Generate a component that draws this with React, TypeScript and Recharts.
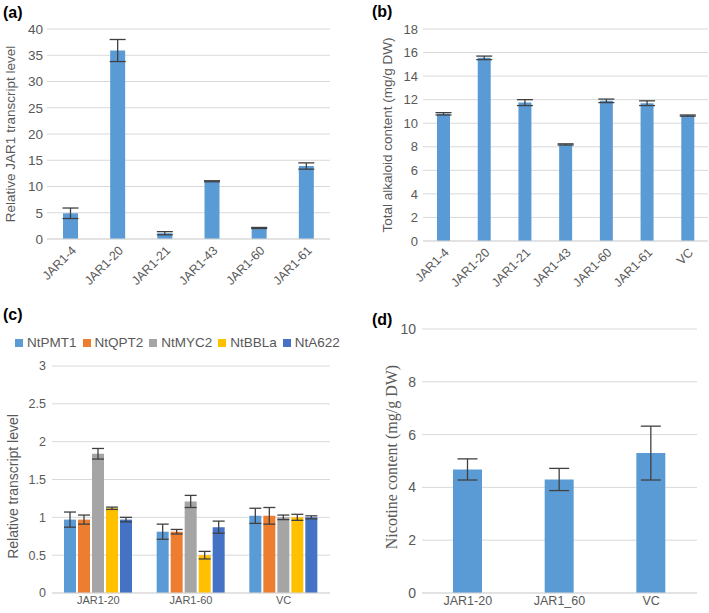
import React from 'react';
import { BarChart, Bar, XAxis, YAxis, CartesianGrid, ErrorBar, Legend, Label } from 'recharts';

const catsA = ['JAR1-4', 'JAR1-20', 'JAR1-21', 'JAR1-43', 'JAR1-60', 'JAR1-61'];
const valsA = [4.9, 35.9, 1.1, 11.0, 2.1, 13.9];
const errA = [1.0, 2.1, 0.3, 0.1, 0.1, 0.6];
const ticksA = [0, 5, 10, 15, 20, 25, 30, 35, 40];

const catsB = ['JAR1-4', 'JAR1-20', 'JAR1-21', 'JAR1-43', 'JAR1-60', 'JAR1-61', 'VC'];
const valsB = [10.8, 15.55, 11.75, 8.2, 11.9, 11.7, 10.65];
const errB = [0.1, 0.15, 0.25, 0.05, 0.15, 0.2, 0.05];
const ticksB = [0, 2, 4, 6, 8, 10, 12, 14, 16, 18];

const catsC = ['JAR1-20', 'JAR1-60', 'VC'];
const seriesC = ['NtPMT1', 'NtQPT2', 'NtMYC2', 'NtBBLa', 'NtA622'];
const colorsC = ['#5B9BD5', '#ED7D31', '#A5A5A5', '#FFC000', '#4472C4'];
const pmt1 = [0.97, 0.81, 1.02];
const pmt1Err = [0.1, 0.1, 0.1];
const qpt2 = [0.97, 0.81, 1.02];
const qpt2Err = [0.06, 0.03, 0.11];
const myc2 = [1.84, 1.21, 1.0];
const myc2Err = [0.07, 0.08, 0.03];
const bbla = [1.12, 0.5, 1.0];
const bblaErr = [0.015, 0.05, 0.04];
const a622 = [0.97, 0.87, 1.0];
const a622Err = [0.03, 0.08, 0.02];
const ticksC = [0, 0.5, 1, 1.5, 2, 2.5, 3];

const catsD = ['JAR1-20', 'JAR1_60', 'VC'];
const valsD = [4.68, 4.3, 5.3];
const errD = [0.4, 0.42, 1.02];
const ticksD = [0, 2, 4, 6, 8, 10];

const dataA = catsA.map((c, i) => ({ name: c, v: valsA[i], e: errA[i] }));
const dataB = catsB.map((c, i) => ({ name: c, v: valsB[i], e: errB[i] }));
const valsC = [pmt1, qpt2, myc2, bbla, a622];
const errsC = [pmt1Err, qpt2Err, myc2Err, bblaErr, a622Err];
const dataC = catsC.map((c, i) => {
  const row: any = { name: c };
  seriesC.forEach((s, k) => {
    row[s] = valsC[k][i];
    row[s + '_e'] = errsC[k][i];
  });
  return row;
});
const dataD = catsD.map((c, i) => ({ name: c, v: valsD[i], e: errD[i] }));

const BLUE = '#5B9BD5';
const GRID = '#D9D9D9';
const TXT = '#595959';
const ERR = '#404040';

const titleStyle: React.CSSProperties = {
  position: 'absolute',
  fontWeight: 'bold',
  fontSize: 16,
  color: '#000',
  fontFamily: "'Liberation Sans', Arial, sans-serif",
};

const LegendC = (props: any) => {
  const payload = [...(props.payload || [])].sort(
    (a: any, b: any) => seriesC.indexOf(a.value) - seriesC.indexOf(b.value)
  );
  return (
    <div style={{ display: 'flex', alignItems: 'center', paddingLeft: 15, fontSize: 13.5, color: TXT, whiteSpace: 'nowrap' }}>
      {payload.map((p: any) => (
        <div key={p.value} style={{ display: 'flex', alignItems: 'center', marginRight: 6 }}>
          <span style={{ display: 'inline-block', width: 8, height: 8, background: p.color, marginRight: 4 }} />
          <span>{p.value}</span>
        </div>
      ))}
    </div>
  );
};

export default function App() {
  return (
    <div
      style={{
        position: 'absolute',
        left: 0,
        top: 0,
        width: 709,
        height: 613,
        background: '#fff',
        fontFamily: "'Liberation Sans', Arial, sans-serif",
      }}
    >
      {/* (a) */}
      <div style={{ position: 'absolute', left: 0, top: 0 }}>
        <BarChart width={350} height={300} data={dataA} margin={{ top: 29, right: 20, bottom: 0, left: 0 }}>
          <CartesianGrid vertical={false} stroke={GRID} />
          <XAxis
            dataKey="name"
            height={61}
            stroke={GRID}
            tickLine={false}
            interval={0}
            angle={-45}
            textAnchor="end"
            tick={{ fill: TXT, fontSize: 12.5 }}
            tickSize={0}
            tickMargin={6}
          />
          <YAxis
            width={47}
            domain={[0, 40]}
            ticks={ticksA}
            axisLine={false}
            tickLine={false}
            tickSize={0}
            tickMargin={4}
            tick={{ fill: TXT, fontSize: 13.5 }}
          >
            <Label value="Relative JAR1 transcript level" angle={-90} position="center" dx={-13} style={{ fill: TXT, fontSize: 13.5 }} />
          </YAxis>
          <Bar dataKey="v" fill={BLUE} barSize={15} isAnimationActive={false}>
            <ErrorBar dataKey="e" width={8} stroke={ERR} strokeWidth={1.3} isAnimationActive={false} />
          </Bar>
        </BarChart>
      </div>
      <div style={{ ...titleStyle, left: 3, top: 4 }}>(a)</div>

      {/* (b) */}
      <div style={{ position: 'absolute', left: 355, top: 0 }}>
        <BarChart width={354} height={300} data={dataB} margin={{ top: 29, right: 1, bottom: 0, left: 0 }}>
          <CartesianGrid vertical={false} stroke={GRID} />
          <XAxis
            dataKey="name"
            height={59}
            stroke={GRID}
            tickLine={false}
            interval={0}
            angle={-45}
            textAnchor="end"
            tick={{ fill: TXT, fontSize: 12.5 }}
            tickSize={0}
            tickMargin={6}
          />
          <YAxis
            width={68}
            domain={[0, 18]}
            ticks={ticksB}
            axisLine={false}
            tickLine={false}
            tickSize={0}
            tickMargin={5}
            tick={{ fill: TXT, fontSize: 13 }}
          >
            <Label value="Total alkaloid content (mg/g DW)" angle={-90} position="center" dx={-2} style={{ fill: TXT, fontSize: 13.5 }} />
          </YAxis>
          <Bar dataKey="v" fill={BLUE} barSize={13} isAnimationActive={false}>
            <ErrorBar dataKey="e" width={8} stroke={ERR} strokeWidth={1.3} isAnimationActive={false} />
          </Bar>
        </BarChart>
      </div>
      <div style={{ ...titleStyle, left: 372, top: 3 }}>(b)</div>

      {/* (c) */}
      <div style={{ position: 'absolute', left: 0, top: 300 }}>
        <BarChart width={350} height={313} data={dataC} margin={{ top: 66, right: 20, bottom: 0, left: 0 }} barGap={2}>
          <CartesianGrid vertical={false} stroke={GRID} />
          <XAxis
            dataKey="name"
            height={20}
            stroke={GRID}
            tickLine={false}
            interval={0}
            tick={{ fill: TXT, fontSize: 11 }}
            tickSize={0}
            tickMargin={3}
          />
          <YAxis
            width={52}
            domain={[0, 3]}
            ticks={ticksC}
            axisLine={false}
            tickLine={false}
            tickSize={0}
            tickMargin={6}
            tick={{ fill: TXT, fontSize: 12.5 }}
          >
            <Label value="Relative transcript level" angle={-90} position="center" dx={-13} dy={7} style={{ fill: TXT, fontSize: 14 }} />
          </YAxis>
          <Legend
            verticalAlign="middle"
            align="center"
            layout="horizontal"
            content={LegendC}
            wrapperStyle={{ top: 34, left: 0, width: 350, lineHeight: '18px' }}
          />
          {seriesC.map((s, k) => (
            <Bar key={s} dataKey={s} name={s} fill={colorsC[k]} barSize={12} isAnimationActive={false}>
              <ErrorBar dataKey={s + '_e'} width={6} stroke={ERR} strokeWidth={1.3} isAnimationActive={false} />
            </Bar>
          ))}
        </BarChart>
      </div>
      <div style={{ ...titleStyle, left: 3, top: 306 }}>(c)</div>

      {/* (d) */}
      <div style={{ position: 'absolute', left: 355, top: 300 }}>
        <BarChart width={354} height={313} data={dataD} margin={{ top: 29, right: 12, bottom: 0, left: 0 }}>
          <CartesianGrid vertical={false} stroke={GRID} />
          <XAxis
            dataKey="name"
            height={20}
            stroke={GRID}
            tickLine={false}
            interval={0}
            tick={{ fill: TXT, fontSize: 12.5 }}
            tickSize={0}
            tickMargin={3}
          />
          <YAxis
            width={67}
            domain={[0, 10]}
            ticks={ticksD}
            axisLine={false}
            tickLine={false}
            tickSize={0}
            tickMargin={6}
            tick={{ fill: TXT, fontSize: 14 }}
          >
            <Label
              value="Nicotine content (mg/g DW)"
              angle={-90}
              position="center"
              dx={3}
              dy={-4}
              style={{ fill: TXT, fontSize: 16, fontFamily: "'Liberation Serif', 'Times New Roman', serif" }}
            />
          </YAxis>
          <Bar dataKey="v" fill={BLUE} barSize={29} isAnimationActive={false}>
            <ErrorBar dataKey="e" width={10} stroke={ERR} strokeWidth={1.3} isAnimationActive={false} />
          </Bar>
        </BarChart>
      </div>
      <div style={{ ...titleStyle, left: 372, top: 311 }}>(d)</div>
    </div>
  );
}
